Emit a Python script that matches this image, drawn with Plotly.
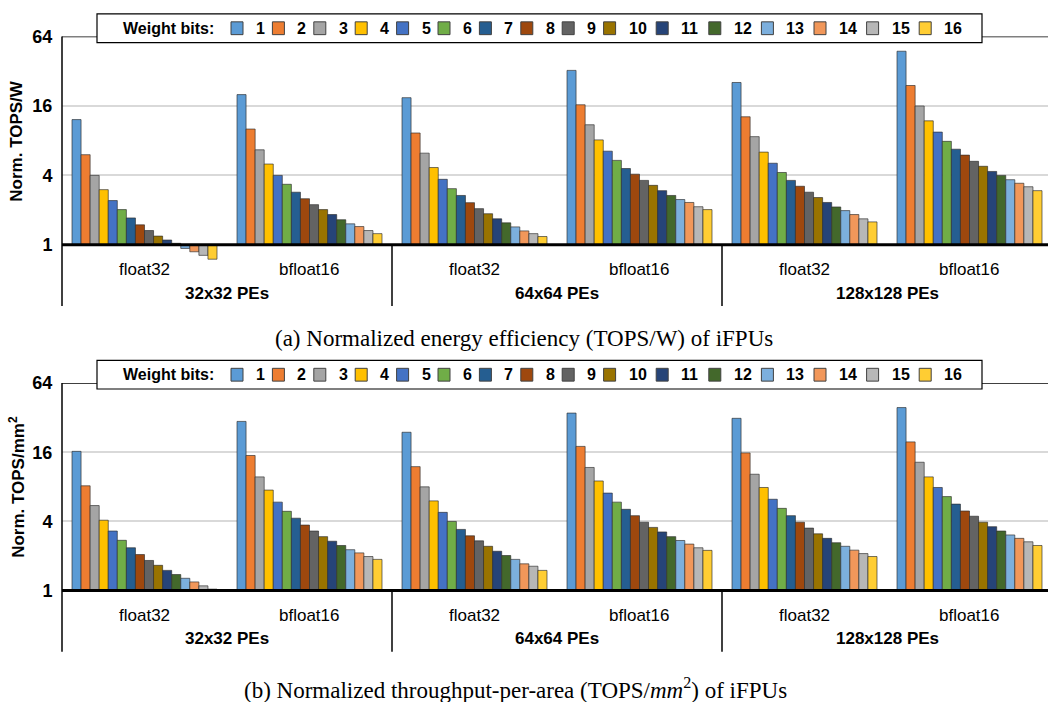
import math
import plotly.graph_objects as go

# ---------------- data ----------------
BITS = [str(b) for b in range(1, 17)]
PE_SIZES = ["32x32 PEs", "64x64 PEs", "128x128 PEs"]
FORMATS = ["float32", "bfloat16"]
COLORS = ["#5B9BD5", "#ED7D31", "#A5A5A5", "#FFC000", "#4472C4", "#70AD47", "#255E91", "#9E480E",
          "#636363", "#997300", "#264478", "#43682B", "#7CAFDD", "#F1975A", "#B7B7B7", "#FFCD33"]
Y_TICKS = [1, 4, 16, 64]

# (a) normalized TOPS/W, one list per (PE size, format), indexed by weight bits 1..16
eff_32_fp32 = [12.2, 6.05, 4.0, 3.01, 2.42, 2.02, 1.71, 1.49, 1.33, 1.19, 1.10, 1.03, 0.93, 0.87, 0.81, 0.75]
eff_32_bf16 = [20.1, 10.1, 6.67, 5.02, 4.0, 3.35, 2.86, 2.51, 2.23, 2.02, 1.83, 1.65, 1.52, 1.44, 1.33, 1.25]
eff_64_fp32 = [18.9, 9.33, 6.24, 4.68, 3.70, 3.07, 2.68, 2.32, 2.06, 1.86, 1.68, 1.55, 1.43, 1.32, 1.25, 1.18]
eff_64_bf16 = [32.6, 16.4, 11.0, 8.13, 6.49, 5.4, 4.59, 4.1, 3.62, 3.28, 2.95, 2.68, 2.47, 2.33, 2.14, 2.02]
eff_128_fp32 = [25.6, 12.9, 8.68, 6.37, 5.1, 4.24, 3.62, 3.22, 2.86, 2.57, 2.33, 2.13, 1.98, 1.83, 1.68, 1.58]
eff_128_bf16 = [47.8, 24.1, 16.0, 11.9, 9.5, 7.9, 6.75, 6.0, 5.3, 4.8, 4.33, 4.0, 3.67, 3.42, 3.19, 2.95]

# (b) normalized TOPS/mm^2
area_32_fp32 = [16.3, 8.17, 5.5, 4.1, 3.3, 2.74, 2.36, 2.06, 1.83, 1.66, 1.50, 1.38, 1.28, 1.19, 1.10, 1.03]
area_32_bf16 = [29.7, 15.0, 9.77, 7.5, 5.89, 4.9, 4.27, 3.72, 3.30, 2.95, 2.69, 2.47, 2.27, 2.13, 1.98, 1.87]
area_64_fp32 = [23.9, 12.0, 8.0, 6.04, 4.8, 4.0, 3.41, 3.0, 2.71, 2.43, 2.2, 2.02, 1.87, 1.71, 1.63, 1.50]
area_64_bf16 = [35.1, 18.0, 11.8, 9.0, 7.06, 5.89, 5.1, 4.49, 3.94, 3.55, 3.24, 2.95, 2.73, 2.54, 2.36, 2.24]
area_128_fp32 = [31.6, 15.8, 10.3, 7.9, 6.24, 5.2, 4.49, 3.94, 3.5, 3.12, 2.85, 2.61, 2.43, 2.25, 2.10, 1.98]
area_128_bf16 = [39.2, 19.7, 13.1, 9.77, 7.9, 6.58, 5.66, 4.93, 4.44, 3.94, 3.6, 3.3, 3.05, 2.85, 2.66, 2.47]

EFF_GROUPS = [eff_32_fp32, eff_32_bf16, eff_64_fp32, eff_64_bf16, eff_128_fp32, eff_128_bf16]
AREA_GROUPS = [area_32_fp32, area_32_bf16, area_64_fp32, area_64_bf16, area_128_fp32, area_128_bf16]

Y_TITLES = ["Norm. TOPS/W", "Norm. TOPS/mm<sup>2</sup>"]
CAPTIONS = ["(a) Normalized energy efficiency (TOPS/W) of iFPUs",
            "(b) Normalized throughput-per-area (TOPS/<i>mm</i><sup>2</sup>) of iFPUs"]

CATS = [f"{pe}|{fmt}" for pe in PE_SIZES for fmt in FORMATS]

# ---------------- layout geometry (pixels) ----------------
W, H = 1048, 702
L = 62
CAT_W = 165.0
Y_MIN = 0.74
SANS = "Liberation Sans, Arial, sans-serif"
SERIF = "Liberation Serif, Times New Roman, serif"

PANELS = [
    dict(top=27.0, one=238.2, groups=EFF_GROUPS, cap_x=524, cap_y=333),
    dict(top=378.5, one=589.0, groups=AREA_GROUPS, cap_x=515, cap_y=688),
]


def px_x(px):
    return (px - L) / (W - L)


def px_y(py):
    return 1 - py / H


def ann(**kw):
    base = dict(showarrow=False, xanchor="center", yanchor="middle")
    base.update(kw)
    return base


fig = go.Figure()
shapes = []
annotations = []
layout_axes = {}

for p, panel in enumerate(PANELS):
    xa = "x" if p == 0 else "x2"
    ya = "y" if p == 0 else "y2"
    xkey = "xaxis" if p == 0 else "xaxis2"
    ykey = "yaxis" if p == 0 else "yaxis2"
    top, one = panel["top"], panel["one"]
    per2 = (one - top) / math.log2(64)
    bottom = one + math.log2(1 / Y_MIN) * per2

    for b, bit in enumerate(BITS):
        vals = [g[b] for g in panel["groups"]]
        fig.add_trace(go.Bar(
            x=CATS, y=[v - 1 for v in vals], base=1,
            customdata=vals, hovertemplate="%{customdata}<extra>" + bit + " bits</extra>",
            marker=dict(color=COLORS[b], line=dict(color="rgba(45,45,45,0.65)", width=1)),
            xaxis=xa, yaxis=ya, showlegend=False, name=bit,
        ))

    layout_axes[xkey] = dict(
        type="category", categoryorder="array", categoryarray=CATS,
        range=[-0.5, -0.5 + (W - L) / CAT_W], anchor=ya,
        showticklabels=False, showgrid=False, showline=False, zeroline=False, ticks="",
    )
    layout_axes[ykey] = dict(
        type="log", domain=[px_y(bottom), px_y(top)], anchor=xa,
        range=[math.log10(Y_MIN), math.log10(64)],
        tickvals=Y_TICKS, ticktext=[str(t) for t in Y_TICKS],
        tickfont=dict(family=SANS, size=18, color="black", weight="bold"),
        ticks="outside", ticklen=5, tickcolor="rgba(0,0,0,0)",
        showgrid=True, gridcolor="#d9d9d9", gridwidth=1.5,
        showline=False, zeroline=False,
    )

    yr = "y" if p == 0 else "y2"
    # top border at 64
    shapes.append(dict(type="line", xref="paper", yref=yr, x0=0, x1=1, y0=64, y1=64,
                       line=dict(color="black", width=1.5), layer="above"))
    # left axis line continuing below
    shapes.append(dict(type="line", xref="paper", yref="paper", x0=0, x1=0,
                       y0=px_y(one + 62), y1=px_y(top), line=dict(color="black", width=1.5), layer="above"))
    # dividers between PE sizes
    for k in range(1, len(PE_SIZES)):
        shapes.append(dict(type="line", xref=xa, yref="paper", x0=2 * k - 0.5, x1=2 * k - 0.5,
                           y0=px_y(one + 62), y1=px_y(one), line=dict(color="black", width=1.5),
                           layer="above"))
    # thick baseline at 1
    shapes.append(dict(type="line", xref="paper", yref=yr, x0=0, x1=1, y0=1, y1=1,
                       line=dict(color="black", width=3), layer="above"))

    # category labels
    for i, cat in enumerate(CATS):
        annotations.append(ann(x=cat, xref=xa, y=px_y(one + 25), yref="paper",
                               text=FORMATS[i % 2],
                               font=dict(family=SANS, size=17, color="black")))
    for k, pe in enumerate(PE_SIZES):
        annotations.append(ann(x=2 * k + 0.5, xref=xa, y=px_y(one + 49), yref="paper",
                               text=pe,
                               font=dict(family=SANS, size=17, color="black", weight="bold")))
    # y title
    annotations.append(ann(x=px_x(17), xref="paper", y=px_y((top + one) / 2), yref="paper",
                           text=Y_TITLES[p], textangle=-90,
                           font=dict(family=SANS, size=17, color="black", weight="bold")))
    # caption
    annotations.append(ann(x=px_x(panel["cap_x"]), xref="paper", y=px_y(panel["cap_y"]), yref="paper",
                           text=CAPTIONS[p],
                           font=dict(family=SERIF, size=23, color="black")))

    # legend box (manual, horizontal)
    shapes.append(dict(type="rect", xref="paper", yref="paper",
                       x0=px_x(97), x1=px_x(982), y0=px_y(top + 6), y1=px_y(top - 23),
                       fillcolor="white", line=dict(color="black", width=1.2), layer="above"))
    ly = top - 8.5
    annotations.append(ann(x=px_x(121), xref="paper", y=px_y(ly), yref="paper", xanchor="left",
                           text="Weight bits:",
                           font=dict(family=SANS, size=16, color="black", weight="bold")))
    sx = 231.0
    for b, bit in enumerate(BITS):
        shapes.append(dict(type="rect", xref="paper", yref="paper",
                           x0=px_x(sx), x1=px_x(sx + 12), y0=px_y(ly + 6.5), y1=px_y(ly - 6.5),
                           fillcolor=COLORS[b], line=dict(color="#404040", width=1), layer="above"))
        annotations.append(ann(x=px_x(sx + 23), xref="paper", y=px_y(ly), yref="paper",
                               xanchor="left", text=bit,
                               font=dict(family=SANS, size=16, color="black", weight="bold")))
        sx += 41.4 + (11.2 if len(bit) == 2 else 0)

fig.update_layout(
    width=W, height=H, autosize=False,
    margin=dict(l=L, r=0, t=0, b=0),
    paper_bgcolor="white", plot_bgcolor="white",
    barmode="group", bargap=20 / CAT_W, bargroupgap=0,
    shapes=shapes, annotations=annotations,
    font=dict(family=SANS, color="black"),
    showlegend=False,
    **layout_axes,
)

fig.write_html("out.html", config={"displayModeBar": False},
               post_script="document.body.style.margin='0';document.body.style.overflow='hidden';")
